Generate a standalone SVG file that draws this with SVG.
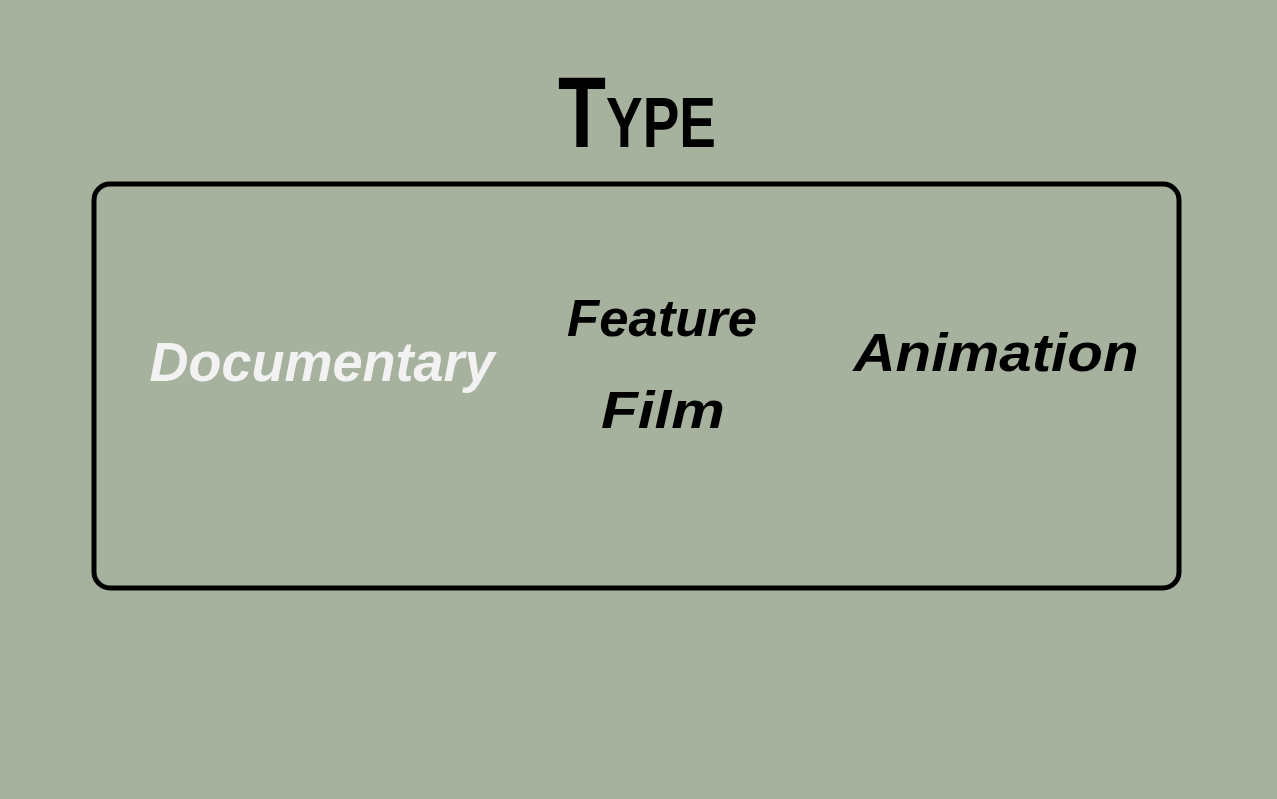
<svg xmlns="http://www.w3.org/2000/svg" width="1277" height="799" viewBox="0 0 1277 799">
<style>
.lbl{font-family:"Liberation Sans",Arial,sans-serif;font-weight:bold;font-style:italic;text-anchor:middle}
.dark{fill:#000}
.light{fill:#F2F2F2}
</style>
<rect x="0" y="0" width="1277" height="799" fill="#A6B29E"/>
<g id="title">
<text class="lbl dark" x="637" y="147" font-size="100" style="font-variant:small-caps;font-style:normal" textLength="158" lengthAdjust="spacingAndGlyphs">Type</text>
</g>
<g id="frame">
<rect x="94" y="184" width="1085" height="404" rx="16" ry="16" fill="none" stroke="#000" stroke-width="5"/>
</g>
<g id="documentary">
<text class="lbl light" x="322" y="381" font-size="56" textLength="345" lengthAdjust="spacingAndGlyphs">Documentary</text>
</g>
<g id="feature-film">
<text class="lbl dark" x="662" y="336" font-size="52" textLength="190" lengthAdjust="spacingAndGlyphs">Feature</text>
<text class="lbl dark" x="663" y="428" font-size="52" textLength="124" lengthAdjust="spacingAndGlyphs">Film</text>
</g>
<g id="animation">
<text class="lbl dark" x="996" y="371" font-size="54" textLength="285" lengthAdjust="spacingAndGlyphs">Animation</text>
</g>
<g id="connectors"></g>
</svg>
